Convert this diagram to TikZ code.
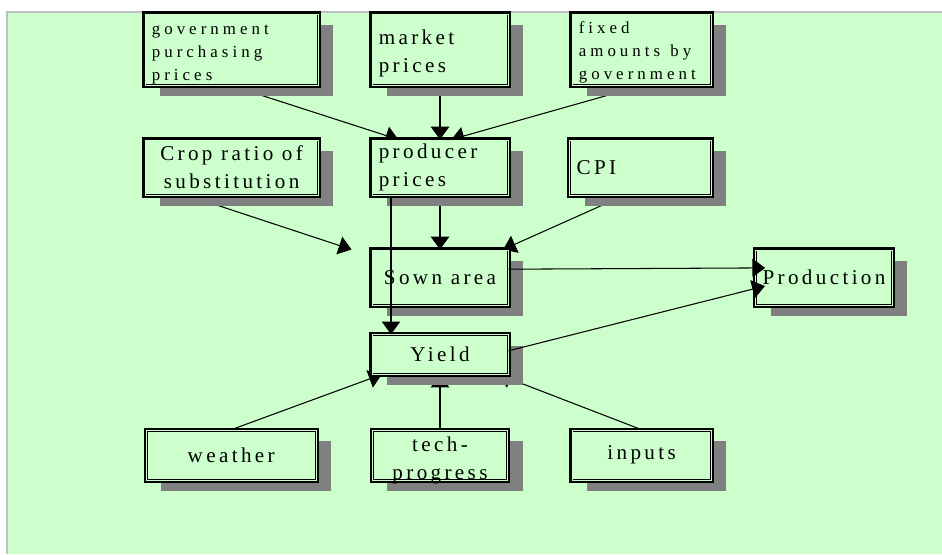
\documentclass[tikz,border=0pt]{standalone}
\usepackage{fontspec}
\setmainfont{Liberation Serif}
\newfontfamily\boxfont[LetterSpace=16]{Liberation Serif}
\newfontfamily\smallboxfont[LetterSpace=24]{Liberation Serif}
\usepackage{tikz}
\usetikzlibrary{arrows.meta,shadows}
\definecolor{panelgreen}{HTML}{CCFFCC}
\definecolor{shadowgray}{HTML}{808080}
\definecolor{bordergray}{HTML}{C0C0C0}
\hyphenpenalty=10000
\pgfdeclarelayer{background}
\pgfdeclarelayer{behind}
\pgfsetlayers{background,behind,main}
\tikzset{
  fc/box/.style={fill=panelgreen,
    drop shadow={shadow xshift=0.375cm, shadow yshift=-0.275cm, fill=shadowgray, opacity=1},
    preaction={draw, line width=3.6pt},
    draw, double=panelgreen, line width=0.7pt, double distance=0.7pt,
    inner xsep=0.17cm, inner ysep=0pt},
  fc/big/.style={fc/box, font=\boxfont\fontsize{15}{20}\selectfont},
  fc/small/.style={fc/box, font=\smallboxfont\fontsize{12}{16.5}\selectfont},
  fc/link/.style={-{Triangle[length=3.2mm,width=4.6mm]}, line width=0.75pt}
}

\begin{document}
\begin{tikzpicture}
\useasboundingbox (0,0) rectangle (23.55,-13.85);
\begin{pgfonlayer}{background}
\fill[white] (0,0) rectangle (23.55,-13.85);
\fill[panelgreen] (0.175,-0.3) rectangle (23.55,-13.85);
\draw[bordergray, line width=1.5pt] (0.175,-13.85) -- (0.175,-0.3) -- (23.55,-0.3);
\end{pgfonlayer}

\node[fc/small, text width=3.99cm, minimum height=1.78cm, text height=14pt, align=left] (govprice) at (5.79,-1.24) {government\\purchasing\\prices};
\node[fc/big, text width=3.06cm, minimum height=1.78cm, text height=16pt, align=left] (mktprice) at (11.0,-1.24) {market\\prices};
\node[fc/small, text width=3.14cm, minimum height=1.78cm, text height=12pt, align=left] (fixprice) at (16.04,-1.24) {fixed\\amounts\hspace{0.6em}by\\government};

\node[fc/big, minimum width=4.33cm, minimum height=1.38cm, align=center] (croprat) at (5.79,-4.19) {Crop ratio of\\substitution};
\node[fc/big, text width=3.06cm, minimum height=1.38cm, align=left] (prodprice) at (11.0,-4.19) {producer\\prices};
\node[fc/big, text width=3.19cm, minimum height=1.38cm, align=left] (cpi) at (16.01,-4.19) {CPI};

\node[fc/big, minimum width=3.4cm, minimum height=1.38cm] (sown) at (11.0,-6.94) {Sown area};
\node[fc/big, minimum width=3.35cm, minimum height=1.38cm] (production) at (20.6,-6.94) {Production};
\node[fc/big, minimum width=3.4cm, minimum height=0.98cm] (yield) at (11.0,-8.86) {Yield};

\node[fc/big, minimum width=4.25cm, minimum height=1.25cm] (weather) at (5.78,-11.38) {weather};
\node[fc/big, minimum width=3.38cm, minimum height=1.25cm, text height=35pt, text depth=-3pt, align=center] (tech) at (11.0,-11.38) {tech-\\progress};
\node[fc/big, minimum width=3.48cm, minimum height=1.25cm] (inputs) at (16.04,-11.38) {inputs};

\begin{pgfonlayer}{behind}
\draw[fc/link] (govprice.south) -- (prodprice.146);
\draw[fc/link] (mktprice.south) -- (prodprice.north);
\draw[fc/link] (fixprice.south) -- (prodprice.68);
\draw[fc/link] (croprat.213) -- ([xshift=-5mm]sown.north west);
\draw[fc/link] (prodprice.south) -- (sown.north);
\draw[fc/link] (cpi.239) -- (sown.24);
\draw[fc/link] (weather.north) -- (yield.199);
\draw[fc/link] (tech.north) -- (yield.south);
\draw[fc/link] (inputs.north) -- (yield.341);
\end{pgfonlayer}
\draw[fc/link] ([xshift=-12.25mm]prodprice.south) -- ([xshift=-12.25mm]yield.north);
\draw[fc/link, shorten >=-2.5mm] (sown.7) -- (production.172);
\draw[fc/link, shorten >=-2.5mm] (yield.3) -- (production.189);
\end{tikzpicture}
\end{document}
